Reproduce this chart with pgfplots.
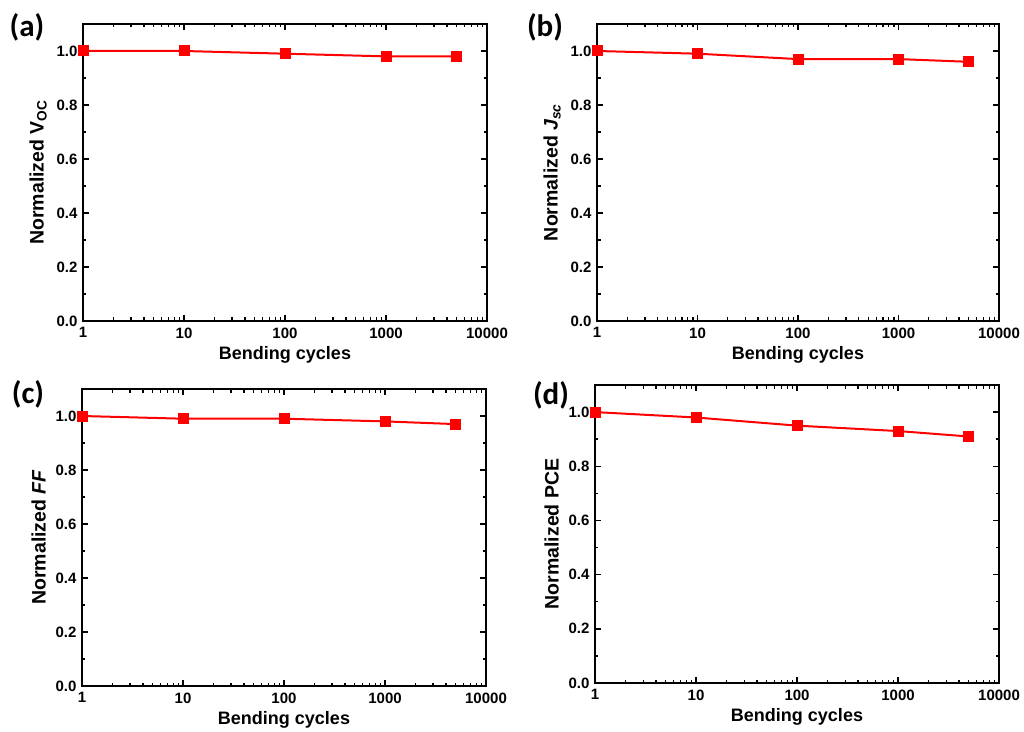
\documentclass[border=0pt]{standalone}
\usepackage{pgfplots}
\pgfplotsset{compat=1.18}
\usepackage{fontspec}
\setmainfont{Liberation Sans}
\newfontfamily\calib{Carlito}
\pgfplotsset{
  mypanel/.style={
    scale only axis, anchor=south west,
    xmin=1, xmax=10000,
    xtick={1,10,100,1000,10000},
    xticklabels={1,10,100,1000,10000},
    ymin=0, ymax=1.1,
    ytick={0,0.2,0.4,0.6,0.8,1.0},
    yticklabels={0.0,0.2,0.4,0.6,0.8,1.0},
    minor ytick={0.1,0.3,0.5,0.7,0.9},
    axis line style={line width=2.2pt},
    every tick/.style={black, line width=1.4pt},
    major tick length=6pt, minor tick length=3.5pt,
    tick label style={font=\fontsize{15}{18}\selectfont\bfseries},
    xlabel style={font=\fontsize{18}{21}\selectfont\bfseries, yshift=-1pt},
    ylabel style={font=\fontsize{19.5}{22}\selectfont\bfseries, yshift=3pt},
    xlabel={Bending cycles},
    xticklabel style={yshift=-3pt},
    yticklabel style={xshift=-2pt},
  },
  mydat/.style={red, line width=2pt, mark=square*, mark size=5pt, mark options={fill=red, draw=red, line width=0pt}},
}
\pgfplotstableread{
x y
1 1.0
10 1.0
100 0.99
1000 0.98
5000 0.98
}\dataA
\pgfplotstableread{
x y
1 1.0
10 0.99
100 0.97
1000 0.97
5000 0.96
}\dataB
\pgfplotstableread{
x y
1 1.0
10 0.99
100 0.99
1000 0.98
5000 0.97
}\dataC
\pgfplotstableread{
x y
1 1.0
10 0.98
100 0.95
1000 0.93
5000 0.91
}\dataD
\begin{document}
\begin{tikzpicture}[x=1pt,y=1pt]
\begin{semilogxaxis}[mypanel, at={(83pt,410pt)}, width=404pt, height=297pt,
  ylabel={Normalized V\textsubscript{OC}}]
\addplot[mydat] table {\dataA};
\end{semilogxaxis}
\begin{semilogxaxis}[mypanel, at={(597pt,410pt)}, width=402pt, height=297pt,
  ylabel={Normalized {\itshape J}\textsubscript{\itshape sc}}]
\addplot[mydat] table {\dataB};
\end{semilogxaxis}
\begin{semilogxaxis}[mypanel, at={(82pt,45pt)}, width=404pt, height=297pt,
  ylabel={Normalized {\itshape FF}}]
\addplot[mydat] table {\dataC};
\end{semilogxaxis}
\begin{semilogxaxis}[mypanel, at={(595pt,48pt)}, width=404pt, height=298pt,
  ylabel={Normalized PCE}]
\addplot[mydat] table {\dataD};
\end{semilogxaxis}
\node[font=\fontsize{31}{34}\calib\bfseries] at (27pt,704pt) {(a)};
\node[font=\fontsize{31}{34}\calib\bfseries] at (545pt,704pt) {(b)};
\node[font=\fontsize{31}{34}\calib\bfseries] at (28pt,337pt) {(c)};
\node[font=\fontsize{31}{34}\calib\bfseries] at (551pt,336pt) {(d)};
\pgfresetboundingbox
\useasboundingbox (0pt,0pt) rectangle (1024pt,731pt);
\end{tikzpicture}
\end{document}
